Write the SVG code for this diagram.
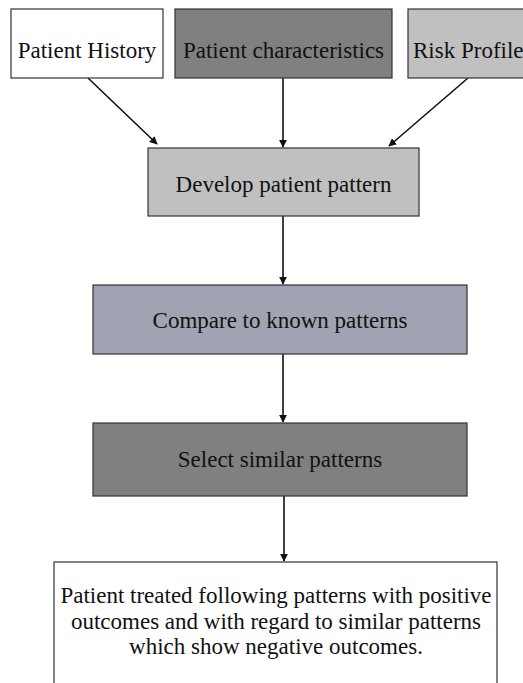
<svg xmlns="http://www.w3.org/2000/svg" width="523" height="683" viewBox="0 0 523 683">
  <style>
    .box { stroke: #333; stroke-width: 1.2; }
    .lbl { font-family: "Liberation Serif", "Times New Roman", serif; font-size: 23px; fill: #111; text-anchor: middle; }
    .edge { stroke: #111; stroke-width: 1.6; fill: none; marker-end: url(#arrow); }
  </style>
  <defs>
    <marker id="arrow" viewBox="0 0 10 10" refX="9" refY="5" markerWidth="5" markerHeight="5" orient="auto" markerUnits="strokeWidth">
      <path d="M0,0 L10,5 L0,10 z" fill="#111"/>
    </marker>
  </defs>
  <rect width="523" height="683" fill="#fff"/>

  <g id="connectors">
    <line class="edge" x1="88" y1="78" x2="157" y2="144"/>
    <line class="edge" x1="283" y1="78" x2="283" y2="147"/>
    <line class="edge" x1="468" y1="78" x2="389" y2="146"/>
    <line class="edge" x1="283" y1="216" x2="283" y2="284"/>
    <line class="edge" x1="283" y1="354" x2="283" y2="422"/>
    <line class="edge" x1="284" y1="496" x2="284" y2="561"/>
  </g>

  <g id="patient-history">
    <rect class="box" x="11" y="9" width="152" height="69" fill="#ffffff"/>
    <text class="lbl" x="87" y="58">Patient History</text>
  </g>
  <g id="patient-characteristics">
    <rect class="box" x="175" y="9" width="217" height="69" fill="#808080"/>
    <text class="lbl" x="283.5" y="58">Patient characteristics</text>
  </g>
  <g id="risk-profile">
    <rect class="box" x="408" y="9" width="130" height="69" fill="#c0c0c0"/>
    <text class="lbl" x="413" y="58" style="text-anchor:start">Risk Profile</text>
  </g>
  <g id="develop-pattern">
    <rect class="box" x="148" y="148" width="271" height="68" fill="#c0c0c0"/>
    <text class="lbl" x="283.5" y="192">Develop patient pattern</text>
  </g>
  <g id="compare-patterns">
    <rect class="box" x="93" y="285" width="374" height="69" fill="#a0a3b1"/>
    <text class="lbl" x="280" y="328">Compare to known patterns</text>
  </g>
  <g id="select-patterns">
    <rect class="box" x="93" y="423" width="374" height="73" fill="#808080"/>
    <text class="lbl" x="280" y="467">Select similar patterns</text>
  </g>
  <g id="treatment">
    <rect class="box" x="54" y="562" width="443" height="130" fill="#ffffff"/>
    <text class="lbl" x="276" y="603">Patient treated following patterns with positive</text>
    <text class="lbl" x="276" y="629">outcomes and with regard to similar patterns</text>
    <text class="lbl" x="276" y="654">which show negative outcomes.</text>
  </g>
</svg>
